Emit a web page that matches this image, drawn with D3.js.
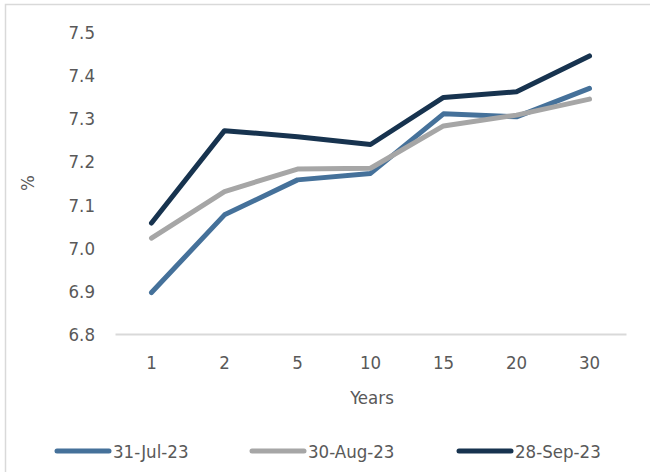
<!DOCTYPE html>
<html><head><meta charset="utf-8">
<script src="https://cdn.jsdelivr.net/npm/d3@7"></script>
<style>body{margin:0;background:#fff}svg{display:block}text{font-family:"DejaVu Sans Condensed","DejaVu Sans",sans-serif;fill:#595959}</style>
</head><body>
<svg id="c" width="650" height="472"></svg>
<script>
const categories = ["1","2","5","10","15","20","30"];
const seriesNames = ["31-Jul-23","30-Aug-23","28-Sep-23"];
const jul31 = [6.896,7.076,7.157,7.172,7.310,7.303,7.369];
const aug30 = [7.022,7.130,7.182,7.184,7.282,7.307,7.344];
const sep28 = [7.057,7.271,7.257,7.239,7.348,7.361,7.444];
const yTicks = [6.8,6.9,7.0,7.1,7.2,7.3,7.4,7.5];
const colors = ["#45719A","#A6A6A6","#17334F"];

const FS = 18.5;
const series = [jul31, aug30, sep28];
const svg = d3.select("#c");
// chart border
svg.append("path").attr("d","M5.5,472V4.5H650").attr("fill","none").attr("stroke","#D9D9D9").attr("stroke-width",1.5);

const x = d3.scaleBand().domain(categories).range([115,626]);
const y = d3.scaleLinear().domain([6.8,7.5]).range([334,31.8]);

// y axis labels
const yAxis = svg.append("g").attr("transform","translate(95,0)")
  .call(d3.axisLeft(y).tickValues(yTicks).tickSize(0).tickPadding(0).tickFormat(d3.format(".1f")));
yAxis.select(".domain").remove();
yAxis.selectAll("text").attr("font-size",FS).attr("fill","#595959").attr("dy","0.36em");

// x axis
const xAxis = svg.append("g").attr("transform","translate(0,334)")
  .call(d3.axisBottom(x).tickSize(0).tickPadding(22));
xAxis.select(".domain").attr("stroke","#D9D9D9").attr("stroke-width",2);
xAxis.selectAll("text").attr("font-size",FS).attr("fill","#595959");

svg.append("text").attr("x",372).attr("y",397).attr("text-anchor","middle").attr("dy","0.36em")
  .attr("font-size",FS).text("Years");
svg.append("text").attr("transform","translate(27,183) rotate(-90)").attr("text-anchor","middle").attr("dy","0.36em")
  .attr("font-size",FS).text("%");

const line = d3.line().x((d,i)=>x(categories[i])+x.bandwidth()/2).y(d=>y(d));
series.forEach((s,k)=>{
  svg.append("path").datum(s).attr("d",line).attr("fill","none").attr("stroke",colors[k])
    .attr("stroke-width",5).attr("stroke-linecap","round").attr("stroke-linejoin","round");
});

// legend
const legX = [55,250,457];
seriesNames.forEach((n,k)=>{
  const g = svg.append("g").attr("transform",`translate(${legX[k]},451)`);
  g.append("line").attr("x1",2).attr("x2",54).attr("stroke",colors[k]).attr("stroke-width",5).attr("stroke-linecap","round");
  g.append("text").attr("x",58).attr("dy","0.36em").attr("font-size",FS).text(n);
});
</script>
</body></html>
